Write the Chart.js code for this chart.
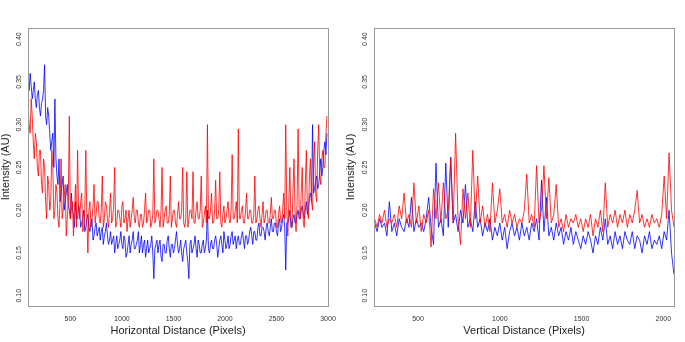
<!DOCTYPE html>
<html>
<head>
<meta charset="utf-8">
<script src="https://cdn.jsdelivr.net/npm/chart.js@4.4.0/dist/chart.umd.min.js"></script>
<style>
  body { margin: 0; background: #fff; }
  .panel { position: absolute; top: 0; height: 342px; }
  #izq { left: 0; width: 342px; }
  #der { left: 342px; width: 343px; }
</style>
</head>
<body>
<div class="panel" id="izq"><canvas id="graficaHorizontal"></canvas></div>
<div class="panel" id="der"><canvas id="graficaVertical"></canvas></div>
<script>

// horizontal profile: first sample and spacing (pixels)
const inicioH = 90;
const pasoH = 10;

const azulH = [
    0.35, 0.34, 0.36, 0.345, 0.33, 0.34, 0.35, 0.33, 0.32, 0.335,
    0.34, 0.32, 0.31, 0.325, 0.33, 0.34, 0.37, 0.31, 0.30, 0.32,
    0.31, 0.29, 0.27, 0.28, 0.29, 0.25, 0.33, 0.26, 0.24, 0.23,
    0.26, 0.21, 0.22, 0.23, 0.24, 0.20, 0.21, 0.22, 0.23, 0.205,
    0.20, 0.19, 0.22, 0.20, 0.195, 0.18, 0.21, 0.19, 0.19, 0.205,
    0.20, 0.18, 0.185, 0.19, 0.20, 0.175, 0.18, 0.19, 0.195, 0.18,
    0.175, 0.185, 0.19, 0.165, 0.17, 0.18, 0.185, 0.17, 0.175, 0.18,
    0.165, 0.175, 0.18, 0.16, 0.17, 0.175, 0.185, 0.17, 0.16, 0.165,
    0.175, 0.16, 0.165, 0.17, 0.15, 0.16, 0.17, 0.155, 0.16, 0.165,
    0.175, 0.16, 0.155, 0.17, 0.165, 0.145, 0.15, 0.16, 0.17, 0.15,
    0.16, 0.165, 0.175, 0.155, 0.155, 0.16, 0.165, 0.175, 0.15, 0.16,
    0.17, 0.15, 0.16, 0.165, 0.145, 0.155, 0.165, 0.15, 0.155, 0.16,
    0.17, 0.15, 0.12, 0.155, 0.16, 0.165, 0.15, 0.16, 0.165, 0.145,
    0.14, 0.16, 0.16, 0.15, 0.15, 0.165, 0.17, 0.155, 0.145, 0.16,
    0.16, 0.15, 0.155, 0.165, 0.175, 0.16, 0.15, 0.155, 0.165, 0.15,
    0.14, 0.155, 0.16, 0.165, 0.15, 0.14, 0.12, 0.16, 0.165, 0.15,
    0.155, 0.16, 0.17, 0.155, 0.145, 0.165, 0.16, 0.15, 0.15, 0.16,
    0.165, 0.15, 0.155, 0.165, 0.20, 0.155, 0.15, 0.16, 0.165, 0.155,
    0.155, 0.165, 0.17, 0.16, 0.145, 0.155, 0.165, 0.17, 0.16, 0.15,
    0.175, 0.165, 0.155, 0.16, 0.17, 0.155, 0.16, 0.17, 0.175, 0.16,
    0.165, 0.17, 0.155, 0.165, 0.17, 0.16, 0.16, 0.17, 0.175, 0.165,
    0.155, 0.17, 0.17, 0.16, 0.165, 0.175, 0.18, 0.17, 0.16, 0.175,
    0.175, 0.165, 0.165, 0.18, 0.185, 0.17, 0.17, 0.18, 0.18, 0.175,
    0.165, 0.18, 0.185, 0.175, 0.17, 0.18, 0.19, 0.175, 0.175, 0.185,
    0.185, 0.175, 0.17, 0.185, 0.19, 0.175, 0.18, 0.19, 0.195, 0.18,
    0.13, 0.185, 0.185, 0.19, 0.20, 0.18, 0.18, 0.19, 0.195, 0.185,
    0.185, 0.195, 0.20, 0.19, 0.19, 0.20, 0.205, 0.195, 0.19, 0.20,
    0.21, 0.195, 0.20, 0.215, 0.22, 0.21, 0.30, 0.22, 0.225, 0.235,
    0.24, 0.225, 0.23, 0.245, 0.26, 0.24, 0.25, 0.27, 0.28, 0.265,
    0.29
];

const rojoH = [
    0.32, 0.30, 0.29, 0.33, 0.31, 0.28, 0.26, 0.29, 0.28, 0.25,
    0.24, 0.27, 0.27, 0.23, 0.22, 0.26, 0.25, 0.21, 0.19, 0.24,
    0.23, 0.20, 0.21, 0.27, 0.25, 0.19, 0.20, 0.23, 0.22, 0.19,
    0.18, 0.21, 0.26, 0.19, 0.20, 0.215, 0.23, 0.17, 0.19, 0.21,
    0.31, 0.19, 0.20, 0.21, 0.17, 0.20, 0.23, 0.18, 0.27, 0.20,
    0.19, 0.21, 0.22, 0.175, 0.18, 0.20, 0.27, 0.19, 0.15, 0.20,
    0.21, 0.18, 0.19, 0.205, 0.23, 0.185, 0.195, 0.21, 0.21, 0.19,
    0.185, 0.20, 0.24, 0.18, 0.19, 0.21, 0.205, 0.19, 0.18, 0.20,
    0.22, 0.185, 0.19, 0.205, 0.25, 0.18, 0.185, 0.20, 0.20, 0.19,
    0.18, 0.205, 0.21, 0.185, 0.19, 0.20, 0.175, 0.19, 0.20, 0.18,
    0.19, 0.20, 0.215, 0.19, 0.185, 0.20, 0.20, 0.185, 0.18, 0.195,
    0.195, 0.18, 0.185, 0.20, 0.22, 0.185, 0.19, 0.20, 0.20, 0.18,
    0.185, 0.195, 0.26, 0.185, 0.19, 0.20, 0.20, 0.19, 0.18, 0.20,
    0.25, 0.18, 0.19, 0.20, 0.205, 0.185, 0.185, 0.195, 0.24, 0.18,
    0.19, 0.20, 0.20, 0.185, 0.18, 0.195, 0.21, 0.19, 0.19, 0.20,
    0.25, 0.185, 0.18, 0.19, 0.245, 0.18, 0.19, 0.20, 0.20, 0.19,
    0.245, 0.185, 0.185, 0.20, 0.21, 0.19, 0.19, 0.20, 0.24, 0.18,
    0.185, 0.195, 0.205, 0.185, 0.30, 0.19, 0.19, 0.20, 0.22, 0.185,
    0.185, 0.20, 0.235, 0.19, 0.19, 0.20, 0.245, 0.185, 0.18, 0.195,
    0.205, 0.185, 0.19, 0.20, 0.21, 0.19, 0.185, 0.20, 0.265, 0.19,
    0.19, 0.20, 0.21, 0.185, 0.295, 0.19, 0.19, 0.20, 0.205, 0.185,
    0.185, 0.20, 0.22, 0.19, 0.19, 0.20, 0.20, 0.185, 0.185, 0.195,
    0.24, 0.185, 0.19, 0.20, 0.205, 0.19, 0.18, 0.195, 0.21, 0.185,
    0.19, 0.20, 0.20, 0.185, 0.185, 0.195, 0.215, 0.19, 0.19, 0.20,
    0.20, 0.18, 0.18, 0.195, 0.205, 0.19, 0.185, 0.20, 0.22, 0.19,
    0.30, 0.20, 0.17, 0.21, 0.25, 0.19, 0.18, 0.22, 0.26, 0.20,
    0.175, 0.21, 0.295, 0.20, 0.19, 0.22, 0.25, 0.185, 0.18, 0.23,
    0.27, 0.20, 0.19, 0.24, 0.26, 0.21, 0.20, 0.25, 0.28, 0.22,
    0.21, 0.27, 0.30, 0.24, 0.23, 0.26, 0.27, 0.25, 0.25, 0.29,
    0.31
];

// vertical profile
const inicioV = 235;
const pasoV = 15;

const azulV = [
    0.185, 0.175, 0.19, 0.18, 0.185, 0.17, 0.21, 0.175, 0.185, 0.17,
    0.19, 0.18, 0.175, 0.19, 0.18, 0.215, 0.175, 0.19, 0.18, 0.185,
    0.175, 0.19, 0.215, 0.18, 0.16, 0.255, 0.18, 0.19, 0.17, 0.255,
    0.18, 0.262, 0.185, 0.195, 0.175, 0.20, 0.185, 0.23, 0.18, 0.19,
    0.175, 0.21, 0.18, 0.19, 0.17, 0.185, 0.175, 0.19, 0.165, 0.18,
    0.17, 0.185, 0.165, 0.18, 0.155, 0.175, 0.185, 0.17, 0.18, 0.165,
    0.185, 0.17, 0.18, 0.165, 0.185, 0.175, 0.19, 0.165, 0.235, 0.175,
    0.215, 0.17, 0.18, 0.165, 0.185, 0.17, 0.18, 0.16, 0.175, 0.165,
    0.18, 0.16, 0.175, 0.165, 0.155, 0.17, 0.16, 0.175, 0.165, 0.15,
    0.17, 0.16, 0.18, 0.165, 0.19, 0.16, 0.17, 0.155, 0.175, 0.16,
    0.17, 0.155, 0.175, 0.165, 0.16, 0.175, 0.155, 0.17, 0.165, 0.15,
    0.17, 0.16, 0.175, 0.155, 0.165, 0.16, 0.17, 0.155, 0.175, 0.165,
    0.20, 0.15, 0.125
];

const rojoV = [
    0.19, 0.18, 0.195, 0.185, 0.20, 0.18, 0.19, 0.185, 0.195, 0.18,
    0.205, 0.19, 0.22, 0.185, 0.195, 0.18, 0.232, 0.185, 0.205, 0.175,
    0.195, 0.185, 0.20, 0.157, 0.225, 0.19, 0.232, 0.185, 0.232, 0.19,
    0.20, 0.26, 0.185, 0.29, 0.19, 0.16, 0.225, 0.19, 0.22, 0.18,
    0.27, 0.19, 0.24, 0.185, 0.205, 0.18, 0.195, 0.175, 0.232, 0.185,
    0.20, 0.225, 0.185, 0.195, 0.18, 0.20, 0.185, 0.195, 0.18, 0.19,
    0.185, 0.20, 0.242, 0.185, 0.195, 0.18, 0.252, 0.185, 0.20, 0.252,
    0.19, 0.238, 0.185, 0.195, 0.23, 0.18, 0.19, 0.175, 0.195, 0.18,
    0.19, 0.185, 0.195, 0.18, 0.19, 0.175, 0.19, 0.18, 0.195, 0.17,
    0.19, 0.18, 0.20, 0.175, 0.232, 0.18, 0.195, 0.185, 0.20, 0.18,
    0.195, 0.185, 0.20, 0.18, 0.195, 0.185, 0.20, 0.223, 0.185, 0.195,
    0.18, 0.19, 0.18, 0.195, 0.185, 0.19, 0.18, 0.195, 0.24, 0.19,
    0.267, 0.20, 0.18
];

const ticksY = [0.10, 0.15, 0.20, 0.25, 0.30, 0.35, 0.40];
const ticksXH = [500, 1000, 1500, 2000, 2500, 3000];
const ticksXV = [500, 1000, 1500, 2000];


function aPuntos(valores, inicio, paso) {
    return valores.map((v, i) => ({ x: inicio + i * paso, y: v }));
}

// gray box round the plot region, like R's box()
const marco = {
    id: 'marco',
    afterDraw(chart) {
        const a = chart.chartArea;
        const ctx = chart.ctx;
        ctx.save();
        ctx.strokeStyle = '#9a9a9a';
        ctx.lineWidth = 1;
        ctx.strokeRect(Math.round(a.left) + 0.5, Math.round(a.top) + 0.5,
            Math.round(a.right - a.left), Math.round(a.bottom - a.top));
        ctx.restore();
    }
};

function crearGrafica(id, rojo, azul, inicio, paso, xMin, xMax, ticksX, tituloX, anchoY, padTituloY, padDerecha) {

    const ctx = document.getElementById(id);
    return new Chart(ctx, {
        type: 'line',
        data: {
            datasets: [{
                data: aPuntos(rojo, inicio, paso),
                borderColor: 'rgba(255, 0, 0, 0.8)',
                borderWidth: 1,
                pointRadius: 0,
                tension: 0
            }, {
                data: aPuntos(azul, inicio, paso),
                borderColor: 'rgba(0, 0, 255, 0.8)',
                borderWidth: 1,
                pointRadius: 0,
                tension: 0
            }]
        },
        options: {
            responsive: true,
            maintainAspectRatio: false,
            animation: false,
            layout: { padding: { top: 28, right: padDerecha, left: 0, bottom: 0 } },
            plugins: { legend: { display: false }, tooltip: { enabled: false } },
            scales: {
                x: {
                    type: 'linear',
                    min: xMin,
                    max: xMax,
                    grid: { display: false },
                    border: { display: false },
                    afterBuildTicks: s => { s.ticks = ticksX.map(v => ({ value: v })); },
                    afterFit: s => { s.height = 36; },
                    ticks: {
                        font: { family: 'Liberation Sans', size: 7 },
                        color: '#333',
                        padding: 1,
                        maxRotation: 0,
                        callback: v => String(v)
                    },
                    title: {
                        display: true,
                        text: tituloX,
                        font: { family: 'Liberation Sans', size: 11, lineHeight: 1 },
                        color: '#222',
                        padding: { top: 0, bottom: 5.5 }
                    }
                },
                y: {
                    min: 0.088,
                    max: 0.413,
                    grid: { display: false },
                    border: { display: false },
                    afterBuildTicks: s => { s.ticks = ticksY.map(v => ({ value: v })); },
                    afterFit: s => { s.width = anchoY; },
                    ticks: {
                        font: { family: 'Liberation Sans', size: 7 },
                        color: '#333',
                        padding: -6,
                        minRotation: 90,
                        maxRotation: 90,
                        crossAlign: 'center',
                        callback: v => v.toFixed(2)
                    },
                    title: {
                        display: true,
                        text: 'Intensity (AU)',
                        font: { family: 'Liberation Sans', size: 11, lineHeight: 1 },
                        color: '#222',
                        padding: { top: padTituloY, bottom: 0 }
                    }
                }
            }
        },
        plugins: [marco]
    });
}

crearGrafica('graficaHorizontal', rojoH, azulH, inicioH, pasoH, 89, 3000, ticksXH,
    'Horizontal Distance (Pixels)', 28, 0, 14);

crearGrafica('graficaVertical', rojoV, azulV, inicioV, pasoV, 231, 2067, ticksXV,
    'Vertical Distance (Pixels)', 32, 3.5, 10.7);

</script>
</body>
</html>
